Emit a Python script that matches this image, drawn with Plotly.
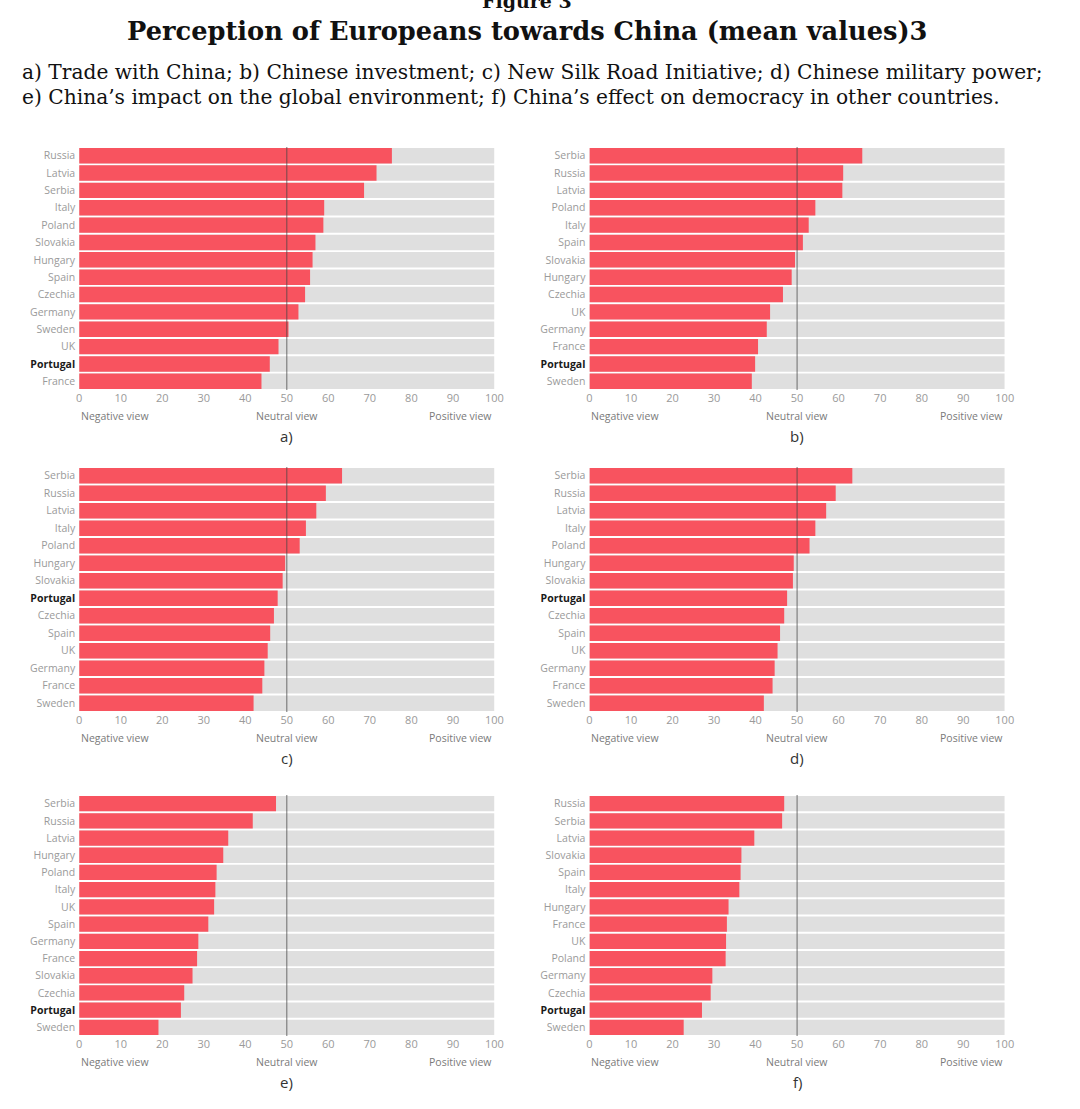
import plotly.graph_objects as go

# ---------------- data ----------------
countries_a = ["Russia", "Latvia", "Serbia", "Italy", "Poland", "Slovakia", "Hungary",
               "Spain", "Czechia", "Germany", "Sweden", "UK", "Portugal", "France"]
values_a = [75.3, 71.6, 68.6, 59.0, 58.8, 56.9, 56.2, 55.6, 54.4, 52.8, 50.4, 48.0, 45.9, 43.9]

countries_b = ["Serbia", "Russia", "Latvia", "Poland", "Italy", "Spain", "Slovakia",
               "Hungary", "Czechia", "UK", "Germany", "France", "Portugal", "Sweden"]
values_b = [65.7, 61.1, 60.9, 54.4, 52.8, 51.4, 49.5, 48.7, 46.6, 43.5, 42.7, 40.6, 39.9, 39.1]

countries_c = ["Serbia", "Russia", "Latvia", "Italy", "Poland", "Hungary", "Slovakia",
               "Portugal", "Czechia", "Spain", "UK", "Germany", "France", "Sweden"]
values_c = [63.3, 59.4, 57.1, 54.6, 53.1, 49.6, 49.0, 47.8, 46.9, 46.0, 45.4, 44.6, 44.1, 42.0]

countries_d = ["Serbia", "Russia", "Latvia", "Italy", "Poland", "Hungary", "Slovakia",
               "Portugal", "Czechia", "Spain", "UK", "Germany", "France", "Sweden"]
values_d = [63.3, 59.3, 57.0, 54.4, 53.0, 49.2, 49.0, 47.6, 46.9, 45.9, 45.3, 44.6, 44.1, 42.0]

countries_e = ["Serbia", "Russia", "Latvia", "Hungary", "Poland", "Italy", "UK",
               "Spain", "Germany", "France", "Slovakia", "Czechia", "Portugal", "Sweden"]
values_e = [47.4, 41.8, 35.9, 34.7, 33.1, 32.8, 32.5, 31.1, 28.7, 28.4, 27.3, 25.3, 24.5, 19.1]

countries_f = ["Russia", "Serbia", "Latvia", "Slovakia", "Spain", "Italy", "Hungary",
               "France", "UK", "Poland", "Germany", "Czechia", "Portugal", "Sweden"]
values_f = [46.9, 46.4, 39.7, 36.6, 36.4, 36.1, 33.5, 33.1, 32.9, 32.8, 29.6, 29.2, 27.1, 22.7]

panel_labels = ["a)", "b)", "c)", "d)", "e)", "f)"]
x_ticks = [0, 10, 20, 30, 40, 50, 60, 70, 80, 90, 100]
scale_labels = ["Negative view", "Neutral view", "Positive view"]
SCALE_MIN, NEUTRAL, SCALE_MAX = 0, 50, 100
highlight = "Portugal"

title_text = "Perception of Europeans towards China (mean values)3"
subtitle_lines = [
    "a) Trade with China; b) Chinese investment; c) New Silk Road Initiative; d) Chinese military power;",
    "e) China’s impact on the global environment; f) China’s effect on democracy in other countries.",
]
figure_text = "Figure 3"

panels = [
    (countries_a, values_a), (countries_b, values_b),
    (countries_c, values_c), (countries_d, values_d),
    (countries_e, values_e), (countries_f, values_f),
]

# ---------------- layout helpers ----------------
W, H = 1080, 1109
def px_x(p):
    return p / W
def px_y(p):
    return 1 - p / H

col_px = [(77, 497), (593, 1013)]
row_px = [(147, 390), (467, 712), (795, 1036)]

RED = "#f8535f"
GREY = "#dfdfdf"
LABEL_GREY = "#9a9a9a"
SANS = "Open Sans, Noto Sans, sans-serif"
SERIF = "DejaVu Serif, Liberation Serif, serif"

fig = go.Figure()
layout = dict(
    width=W, height=H,
    margin=dict(l=0, r=0, t=0, b=0),
    paper_bgcolor="white", plot_bgcolor="white",
    showlegend=False, barmode="overlay", bargap=0.11,
)
annotations = []
shapes = []

for i, (cats, vals) in enumerate(panels):
    n = i + 1
    r, c = divmod(i, 2)
    xs = "x" if n == 1 else f"x{n}"
    ys = "y" if n == 1 else f"y{n}"
    xkey = "xaxis" if n == 1 else f"xaxis{n}"
    ykey = "yaxis" if n == 1 else f"yaxis{n}"

    fig.add_trace(go.Bar(x=[SCALE_MAX] * len(cats), y=cats, orientation="h",
                         marker=dict(color=GREY, line=dict(width=0)),
                         xaxis=xs, yaxis=ys, hoverinfo="skip"))
    fig.add_trace(go.Bar(x=vals, y=cats, orientation="h",
                         marker=dict(color=RED, line=dict(width=0)),
                         xaxis=xs, yaxis=ys))

    ticktext = [f"<span style='color:#1a1a1a'><b>{cc}</b></span>" if cc == highlight else cc for cc in cats]

    layout[xkey] = dict(
        domain=[px_x(col_px[c][0]), px_x(col_px[c][1])],
        anchor=ys, range=[SCALE_MIN, SCALE_MAX],
        tickvals=x_ticks, ticktext=[str(t) for t in x_ticks],
        tickfont=dict(family=SANS, size=11, color=LABEL_GREY),
        showgrid=False, zeroline=False, showline=False, ticks="",
    )
    layout[ykey] = dict(
        domain=[px_y(row_px[r][1]), px_y(row_px[r][0])],
        anchor=xs, autorange="reversed",
        categoryorder="array", categoryarray=cats,
        tickvals=cats, ticktext=ticktext,
        tickfont=dict(family=SANS, size=10.5, color=LABEL_GREY),
        showgrid=False, zeroline=False, showline=False, ticks="", ticklabelstandoff=3,
    )

    shapes.append(dict(type="line", xref=xs, yref=f"{ys} domain",
                       x0=NEUTRAL, x1=NEUTRAL, y0=0, y1=1, layer="above",
                       line=dict(color="rgba(70,70,70,0.75)", width=1)))

    for lab, xv, anc in zip(scale_labels, [SCALE_MIN, NEUTRAL, SCALE_MAX], ["left", "center", "right"]):
        annotations.append(dict(text=lab, xref=xs, yref=f"{ys} domain", x=xv, y=0,
                                xanchor=anc, yanchor="top", yshift=-17, showarrow=False,
                                font=dict(family=SANS, size=10.5, color="#7a7a7a")))
    annotations.append(dict(text=panel_labels[i], xref=xs, yref=f"{ys} domain", x=NEUTRAL, y=0,
                            xanchor="center", yanchor="top", yshift=-34, showarrow=False,
                            font=dict(family=SANS, size=15, color="#333333")))

annotations.append(dict(text=f"<b>{figure_text}</b>", xref="paper", yref="paper",
                        x=px_x(530), y=px_y(1), xanchor="center", yanchor="middle", showarrow=False,
                        font=dict(family=SERIF, size=19, color="#111111")))
annotations.append(dict(text=f"<b>{title_text}</b>", xref="paper", yref="paper",
                        x=px_x(530), y=px_y(31), xanchor="center", yanchor="middle", showarrow=False,
                        font=dict(family=SERIF, size=25.7, color="#111111")))
for k, line in enumerate(subtitle_lines):
    annotations.append(dict(text=line, xref="paper", yref="paper",
                            x=px_x(17), y=px_y(72 + 25 * k), xanchor="left", yanchor="middle",
                            align="left", showarrow=False,
                            font=dict(family=SERIF, size=20.2, color="#111111")))

layout["annotations"] = annotations
layout["shapes"] = shapes
fig.update_layout(**layout)

fig.write_html("out.html", config={"displayModeBar": False},
               post_script="document.body.style.margin='0';")
